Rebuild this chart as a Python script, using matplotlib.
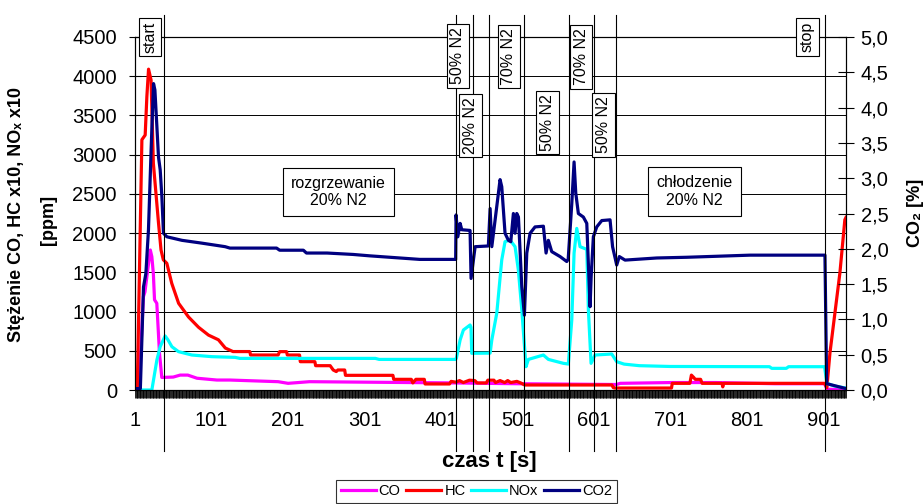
import numpy as np
import matplotlib
matplotlib.use('Agg')
import matplotlib.pyplot as plt
from matplotlib.ticker import MultipleLocator, FuncFormatter

plt.rcParams['font.family'] = ['Liberation Sans', 'DejaVu Sans']

# ---- data (time in s, CO/HC/NOx in ppm, CO2 in %) ----
co_t = [1, 6, 12, 14, 16.5, 21, 23, 25, 26.5, 29.5, 33, 36, 51, 60, 70, 82, 108, 125,
        188, 201, 229, 300, 420, 500, 630, 635, 702, 760, 837, 902, 905, 930]
co_v = [0, 0, 1190, 1250, 1445, 1785, 1700, 1480, 1150, 1105, 470, 160, 165, 190, 190,
        150, 127, 127, 106, 85, 106, 100, 90, 80, 70, 85, 95, 95, 80, 80, 10, 5]

hc_t = [1, 4, 10, 14.3, 16.5, 18.7, 22, 25, 31.7, 35, 38, 42.6, 49, 58, 71, 84, 97, 110,
        119, 129, 151, 152, 188, 190, 199, 200, 216, 217, 236, 237, 256, 260, 264, 266,
        275, 276, 338, 339, 362, 364, 368, 379, 380, 412, 414, 420, 425, 430, 438, 445,
        448, 460, 462, 470, 472, 478, 484, 488, 492, 500, 505, 510, 624, 626, 628, 702,
        703, 726, 728, 731, 733, 740, 742, 768, 769, 770, 902, 905, 909, 915.5, 922,
        928.5, 930]
hc_v = [0, 20, 3190, 3250, 3740, 4090, 3950, 2890, 2130, 1785, 1660, 1615, 1360, 1105,
        930, 800, 700, 640, 535, 490, 490, 446, 446, 489, 489, 446, 446, 361, 361, 310,
        310, 255, 235, 255, 255, 187, 187, 136, 136, 90, 136, 136, 77, 77, 110, 100, 120,
        95, 125, 120, 90, 90, 125, 125, 95, 120, 95, 120, 95, 110, 90, 64, 64, 30, 25, 25,
        85, 85, 190, 160, 136, 136, 85, 85, 40, 85, 85, 30, 470, 980, 1490, 2170, 2200]

nox_t = [1, 23, 29.6, 33.9, 40.4, 44, 49.2, 57.8, 75.3, 101.4, 131.9, 138, 315, 320, 420,
         421, 425.8, 430.1, 438.8, 440, 441, 465, 467.2, 473.7, 480.2, 484.5, 491, 497.6,
         501.9, 506.4, 511.9, 515, 534.6, 541.1, 560.7, 567.2, 571.7, 574.7, 578.2,
         582.5, 591.3, 593.4, 596.9, 602.1, 623.9, 630.4, 640, 660, 700, 830, 833, 852,
         855, 902, 905, 915, 930]
nox_v = [0, 0, 383, 552, 689, 640, 552, 489, 446, 425, 416, 403, 403, 390, 390, 408, 637,
         765, 829, 800, 468, 470, 637, 980, 1658, 1891, 1912, 1827, 1530, 1020, 297, 390,
         446, 390, 340, 331, 892, 1745, 2060, 1827, 1793, 1020, 340, 446, 459, 361, 330,
         310, 300, 297, 276, 276, 297, 297, 85, 50, 25]

co2_t = [1, 8, 12.1, 15.2, 18.6, 22.2, 25.2, 27, 29.6, 31.7, 33.9, 36.1, 38.2, 42.7, 62.3,
         88.4, 118.8, 125, 186, 190, 221, 225, 252, 286, 308, 373, 420, 420.5, 422.8,
         425.8, 428, 438.8, 440.1, 445.4, 462.7, 465, 467.2, 473.7, 478, 480.2, 484.5,
         488.9, 492, 495.4, 497.6, 499.8, 502, 506.4, 509.8, 512.9, 517.2, 523.7, 534.6,
         538.1, 541.1, 545.5, 556.4, 565.1, 567, 571.7, 574.7, 576.9, 580.3, 586.8, 591.3,
         595.6, 597, 599.9, 604.3, 610.9, 621.7, 625, 630.4, 633.8, 641.3, 682.7, 721.9,
         804.6, 902.5, 904.7, 930]
co2_v = [0.02, 0.02, 1.46, 1.65, 2.27, 3.45, 4.34, 4.25, 3.73, 3.30, 3.12, 2.74, 2.22,
         2.17, 2.12, 2.08, 2.03, 2.01, 2.01, 1.98, 1.98, 1.94, 1.94, 1.92, 1.90, 1.85, 1.85,
         2.48, 2.17, 2.36, 2.27, 2.26, 1.58, 2.03, 2.04, 2.57, 2.03, 2.60, 2.98, 2.88, 2.22,
         2.12, 2.10, 2.50, 2.22, 2.50, 2.45, 1.46, 1.06, 1.94, 2.22, 2.31, 2.32, 1.94, 2.12,
         1.96, 1.89, 1.82, 1.85, 2.64, 3.23, 2.79, 2.50, 2.45, 2.36, 1.18, 1.60, 2.17, 2.31,
         2.40, 2.41, 2.03, 1.77, 1.89, 1.84, 1.87, 1.88, 1.91, 1.91, 0.09, 0.02]

# moments where the nitrogen share changes (vertical markers)
events = [39, 420, 443, 464, 509, 568, 601, 630, 902]

x_ticks = [1, 101, 201, 301, 401, 501, 601, 701, 801, 901]
y_ticks = [0, 500, 1000, 1500, 2000, 2500, 3000, 3500, 4000, 4500]
y2_ticks = [0.0, 0.5, 1.0, 1.5, 2.0, 2.5, 3.0, 3.5, 4.0, 4.5, 5.0]

W, H = 923, 504


def px(x, y):
    return x / W, 1 - y / H


fig = plt.figure(figsize=(W / 100, H / 100), dpi=100)
ax = fig.add_axes([135 / W, 1 - 390 / H, (846 - 135) / W, 353 / H])
ax2 = ax.twinx()

lw = 2.3
l_co, = ax.plot(co_t, co_v, color='#FF00FF', lw=lw, label='CO')
l_hc, = ax.plot(hc_t, hc_v, color='#FF0000', lw=lw, label='HC')
l_nox, = ax.plot(nox_t, nox_v, color='#00FFFF', lw=lw, label='NOx')
l_co2, = ax2.plot(co2_t, co2_v, color='#000080', lw=lw, label='CO2')

ax.set_xlim(1, 930)
ax.set_ylim(0, 4500)
ax.set_yticks(y_ticks)
ax.set_xticks(x_ticks)
ax.set_xticklabels([str(t) for t in x_ticks])
ax.xaxis.set_minor_locator(MultipleLocator(1))
ax.tick_params(axis='x', which='both', bottom=True, direction='out', length=6,
               width=0.6, color='black', labelsize=14.5, pad=9)
ax.tick_params(axis='y', direction='inout', length=8, width=0.8, labelsize=14.5, pad=9)
ax.yaxis.grid(True, color='black', lw=0.7)
ax.set_axisbelow('line')
for s in ax.spines.values():
    s.set_linewidth(0.8)

ax2.set_ylim(0, 5)
ax2.set_yticks(y2_ticks)
ax2.yaxis.set_major_formatter(FuncFormatter(lambda v, p: f'{v:.1f}'.replace('.', ',')))
ax2.tick_params(axis='y', direction='inout', length=11, width=0.8, labelsize=14.5, pad=5)

for t in events:
    ax2.axvline(t, ymin=-0.173, ymax=1.062, clip_on=False, color='black', lw=0.8)

# rotated labels above the markers
tags = [('start', 150, 37), ('50% N2', 458, 56), ('20% N2', 470.5, 125.5),
        ('70% N2', 509, 56.5), ('50% N2', 547.5, 122.5), ('70% N2', 581, 57),
        ('50% N2', 603.5, 125), ('stop', 807.5, 37)]
for txt, x, y in tags:
    fig.text(*px(x, y), txt, rotation=90, ha='center', va='center', fontsize=11.5,
             bbox=dict(boxstyle='square,pad=0.22', fc='white', ec='black', lw=0.8))

for txt, x, y in [('rozgrzewanie\n20% N2', 338.5, 192), ('chłodzenie\n20% N2', 694.5, 191.5)]:
    fig.text(*px(x, y), txt, ha='center', va='center', fontsize=11.5,
             multialignment='center',
             bbox=dict(boxstyle='square,pad=0.5', fc='white', ec='black', lw=0.8))

fig.text(*px(17, 214), 'Stężenie CO, HC x10, NOₓ x10', rotation=90, ha='center',
         va='center', fontsize=13, fontweight='bold')
fig.text(*px(48, 220), '[ppm]', rotation=90, ha='center', va='center', fontsize=13,
         fontweight='bold')
fig.text(*px(915, 213), 'CO₂ [%]', rotation=90, ha='center', va='center', fontsize=13,
         fontweight='bold')
fig.text(*px(489, 462), 'czas t [s]', ha='center', va='center', fontsize=16,
         fontweight='bold')

leg = fig.legend(handles=[l_co, l_hc, l_nox, l_co2], loc='upper center',
                 bbox_to_anchor=px(476.5, 480), ncol=4, fontsize=10.5, frameon=True,
                 fancybox=False, edgecolor='black', handlelength=2.4, handletextpad=0.2,
                 columnspacing=0.4, borderpad=0.3, borderaxespad=0)
leg.get_frame().set_linewidth(0.8)

fig.savefig('out.png', dpi=100)
